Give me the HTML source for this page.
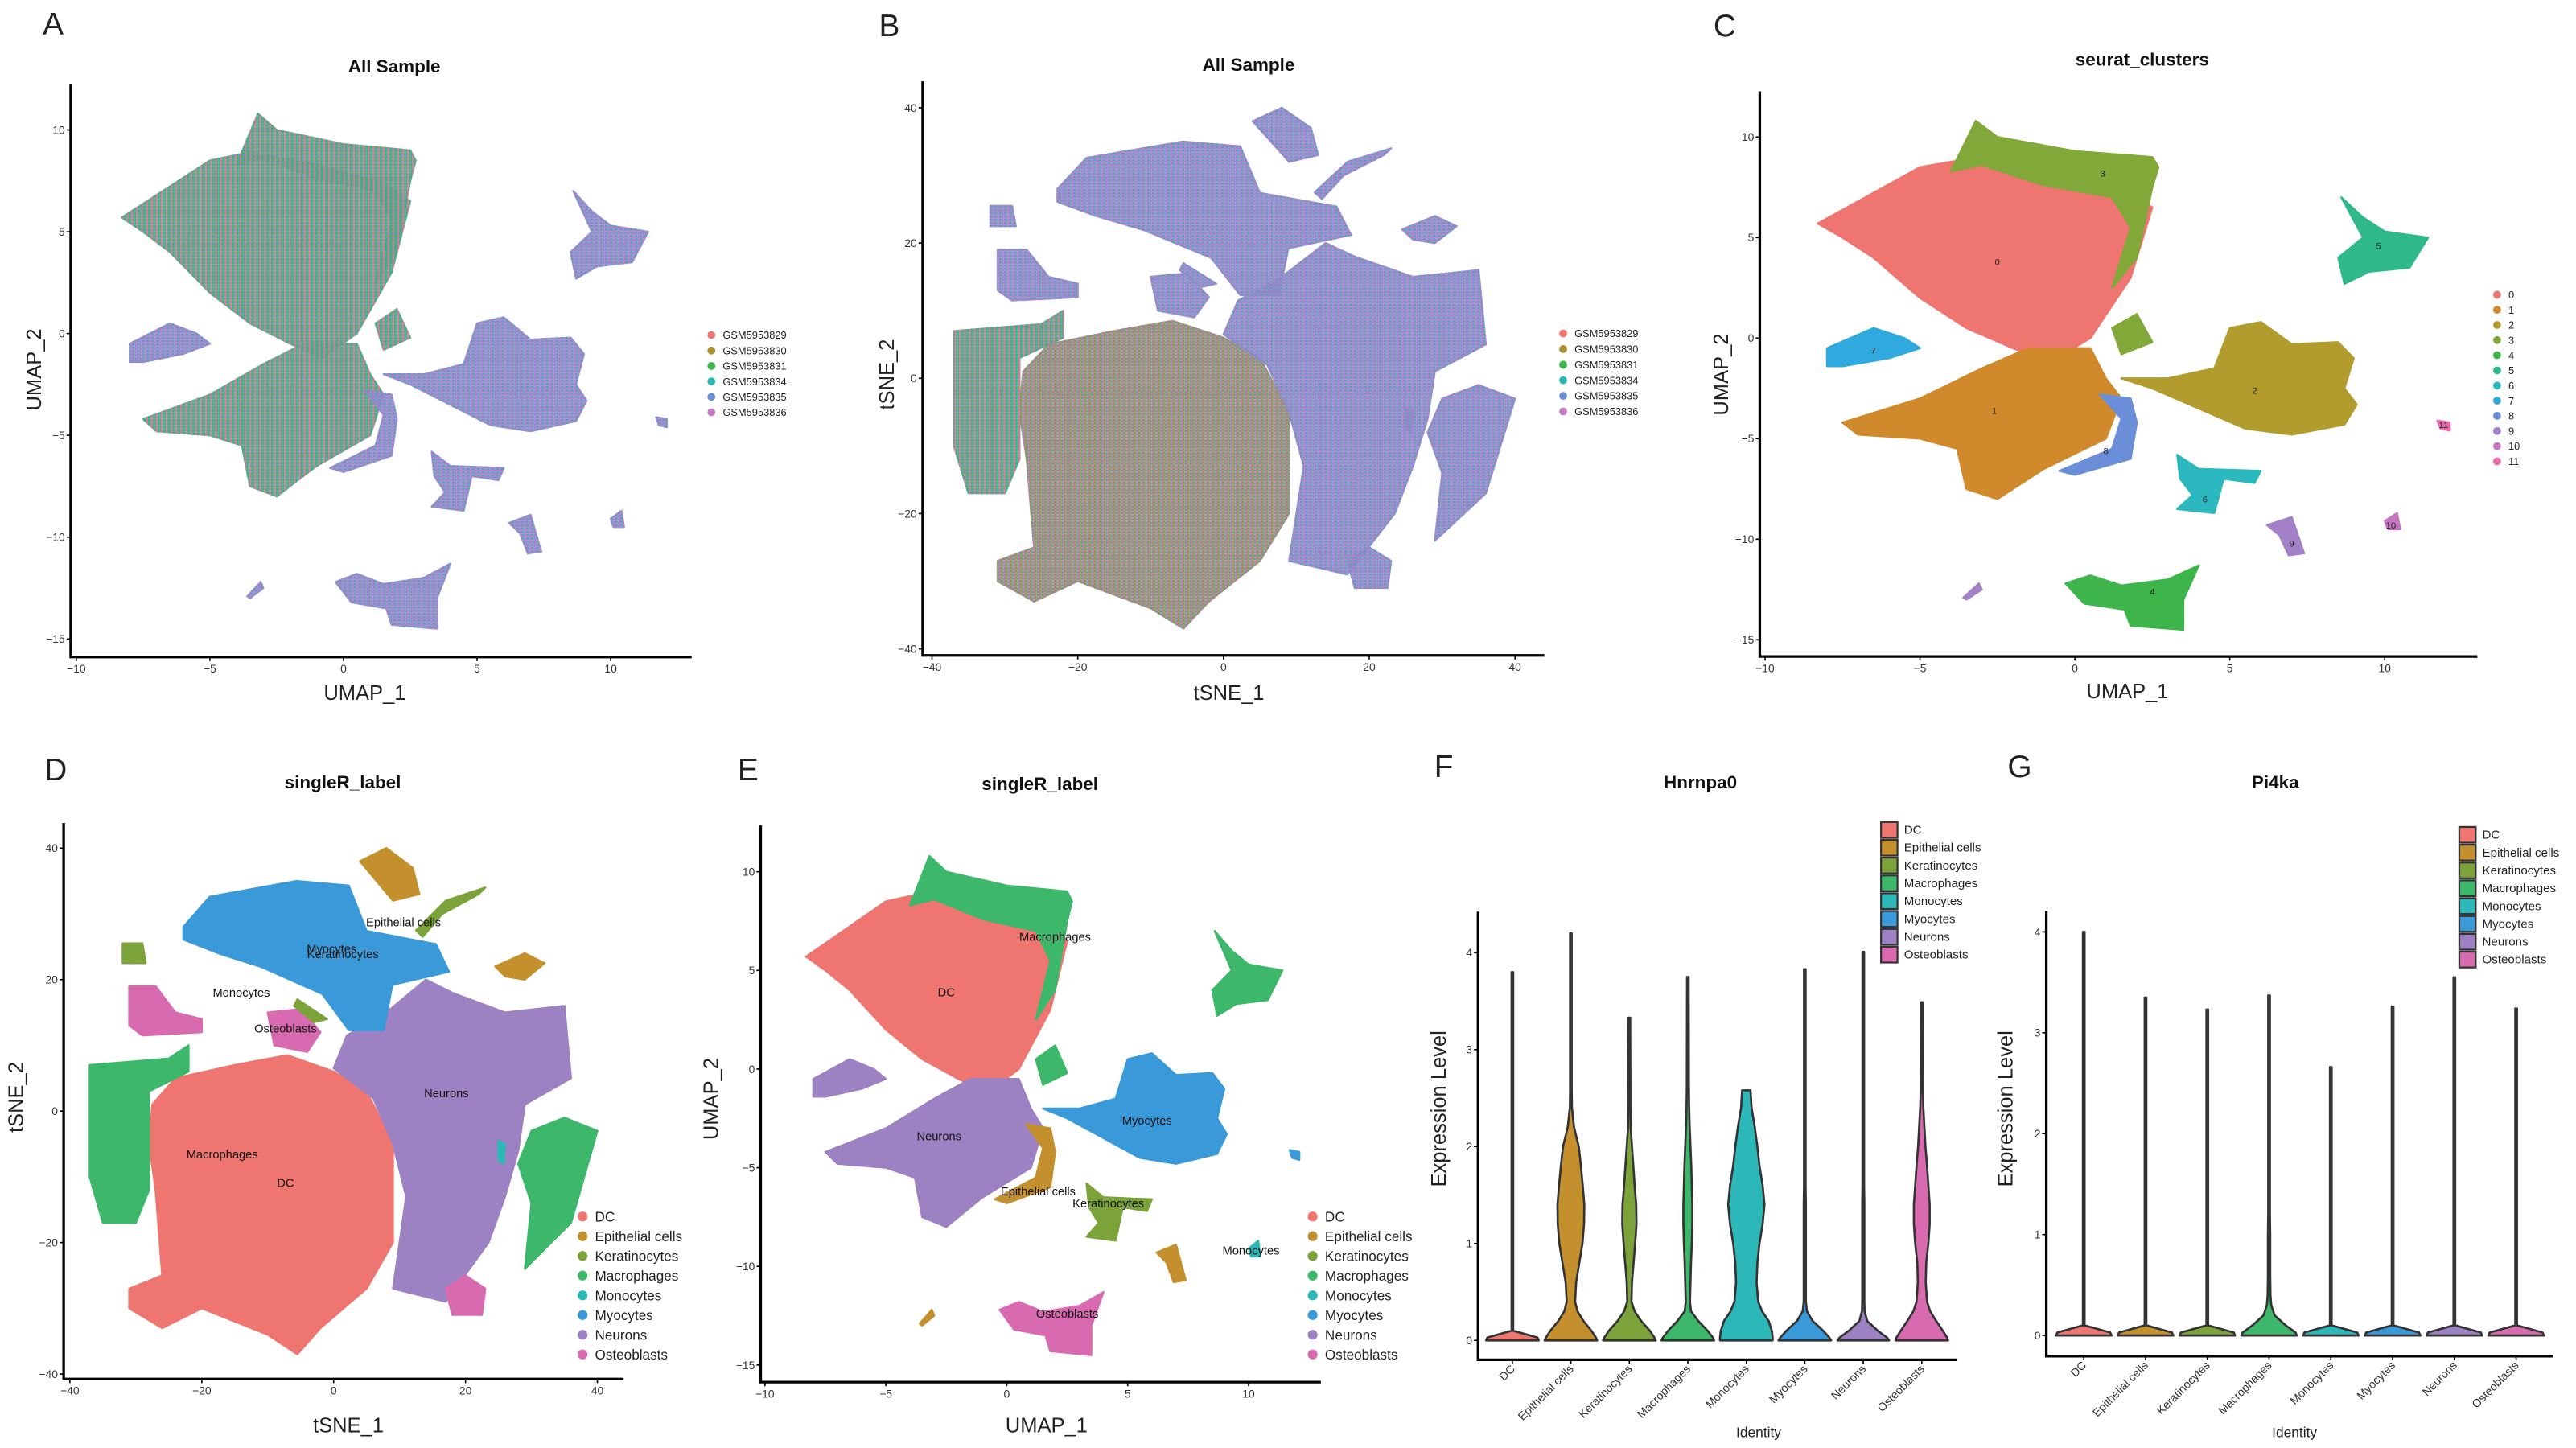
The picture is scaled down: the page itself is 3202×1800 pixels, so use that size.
<!DOCTYPE html>
<html><head><meta charset="utf-8"><title>scRNA figure</title>
<style>
html,body{margin:0;padding:0;background:#fff;}
svg{display:block;font-family:"Liberation Sans",Arial,sans-serif;}
</style></head>
<body>
<svg id="fig" xmlns="http://www.w3.org/2000/svg" width="3202" height="1800" viewBox="0 0 1568 881.5">
<defs>
<pattern id="mixGreen" width="3" height="2" patternUnits="userSpaceOnUse">
<rect x="0" y="0" width="1" height="1" fill="#3DB54A"/><rect x="1" y="0" width="1" height="1" fill="#6A8FD8"/><rect x="2" y="0" width="1" height="1" fill="#C47BC4"/>
<rect x="0" y="1" width="1" height="1" fill="#2BB8B3"/><rect x="1" y="1" width="1" height="1" fill="#3DB54A"/><rect x="2" y="1" width="1" height="1" fill="#EE7570"/>
</pattern>
<pattern id="mixPurple" width="3" height="2" patternUnits="userSpaceOnUse">
<rect x="0" y="0" width="1" height="1" fill="#C47BC4"/><rect x="1" y="0" width="1" height="1" fill="#6A8FD8"/><rect x="2" y="0" width="1" height="1" fill="#C47BC4"/>
<rect x="0" y="1" width="1" height="1" fill="#2BB8B3"/><rect x="1" y="1" width="1" height="1" fill="#C47BC4"/><rect x="2" y="1" width="1" height="1" fill="#6A8FD8"/>
</pattern>
<pattern id="mixRed" width="3" height="2" patternUnits="userSpaceOnUse">
<rect x="0" y="0" width="1" height="1" fill="#EE7570"/><rect x="1" y="0" width="1" height="1" fill="#3DB54A"/><rect x="2" y="0" width="1" height="1" fill="#6A8FD8"/>
<rect x="0" y="1" width="1" height="1" fill="#3DB54A"/><rect x="1" y="1" width="1" height="1" fill="#C47BC4"/><rect x="2" y="1" width="1" height="1" fill="#EE7570"/>
</pattern>
</defs>
<g id="root"></g>
</svg>
<script>
// ---------- UMAP cluster outlines (data units) ----------
const uC0=[[-8.3,5.7],[-7,6.8],[-5,8.5],[-3.5,8.9],[-1,8.3],[1.5,7.4],[2.5,6.5],[1.8,3],[0.5,0],[-0.8,-1.2],[-2,-0.5],[-3.5,0.5],[-5,2],[-6.5,4],[-7.5,5]];
const uC3=[[-4,8.3],[-3.2,10.8],[-2.5,10],[0,9.3],[2.5,9],[2.7,8.5],[2.5,7.5],[2,4],[1.2,2.5],[1.8,5.5],[1.2,7],[-1,7.6],[-3,8.6]];
const uC3b=[[1.2,0.5],[2,1.2],[2.5,-0.2],[1.5,-0.8]];
const uC1=[[-7.5,-4.2],[-5,-3],[-3,-1.5],[-1.5,-0.5],[0.5,-0.5],[1,-2],[1.5,-3],[1,-5],[-1,-6.5],[-2.5,-8],[-3.5,-7.5],[-3.8,-5.5],[-5,-5],[-7,-4.8]];
const uC8=[[0.8,-2.8],[1.8,-3],[2,-4.2],[1.8,-6],[0,-6.8],[-0.5,-6.6],[1.2,-5.5],[1.5,-4]];
const uC7=[[-8,-1.4],[-8,-0.5],[-6.5,0.5],[-5.5,0],[-5,-0.5],[-6,-1],[-7.5,-1.4]];
const uC2=[[1.5,-2],[3,-2],[4.5,-1.5],[5,0.5],[6,0.8],[7,-0.3],[8.5,-0.2],[9,-1],[8.7,-2.5],[9.1,-3.3],[8.7,-4.3],[7,-4.8],[5.5,-4.5],[4,-3.5],[2.5,-2.5]];
const uC5=[[8.6,7],[9.3,6],[10,5.3],[11.4,5],[10.8,3.5],[9.5,3.3],[8.7,2.7],[8.5,4],[9.3,5]];
const uC6=[[3.3,-5.8],[4,-6.5],[6,-6.6],[5.8,-7.2],[4.8,-7],[4.5,-8.7],[3.3,-8.5],[3.8,-7.8],[3.4,-7]];
const uC4=[[-0.3,-12.2],[0.5,-11.8],[1.5,-12.3],[3,-12],[4,-11.3],[3.5,-13],[3.5,-14.5],[1.8,-14.3],[1.6,-13.5],[0.3,-13.2]];
const uC9=[[6.2,-9.3],[7,-8.9],[7.4,-10.7],[6.9,-10.8],[6.6,-9.8]];
const uC10=[[10.0,-9.1],[10.4,-8.7],[10.5,-9.5],[10.1,-9.5]];
const uC11=[[11.7,-4.1],[12.1,-4.2],[12.1,-4.6],[11.8,-4.5]];
const uCtiny=[[-3.6,-12.9],[-3.1,-12.2],[-3.0,-12.5],[-3.5,-13.0]];
const umapShapes=[uC0,uC3,uC3b,uC1,uC8,uC7,uC2,uC5,uC6,uC4,uC9,uC10,uC11,uCtiny];
const umapClusterId=['0','3','3','1','8','7','2','5','6','4','9','10','11','9'];
const umapSingleR=['DC','Macrophages','Macrophages','Neurons','Epithelial cells','Neurons','Myocytes','Macrophages','Keratinocytes','Osteoblasts','Epithelial cells','Monocytes','Myocytes','Epithelial cells'];
const umapSampleMix=['mixGreen','mixGreen','mixGreen','mixGreen','mixPurple','mixPurple','mixPurple','mixPurple','mixPurple','mixPurple','mixPurple','mixPurple','mixPurple','mixPurple'];
const clusterLabels=['0','1','2','3','4','5','6','7','8','9','10','11'];
const clusterLabelX=[-2.5,-2.6,5.8,0.9,2.5,9.8,4.2,-6.5,1.0,7.0,10.2,11.9];
const clusterLabelY=[3.8,-3.6,-2.6,8.2,-12.6,4.6,-8.0,-0.6,-5.6,-10.2,-9.3,-4.3];
const clusterColors=['#EE7570','#D08A2C','#B39C2E','#82A83A','#3DB54A','#2FB98A','#2BB8BF','#2FA9DE','#6A8FD8','#A281C6','#C576C0','#E86AA8'];

// ---------- tSNE outlines ----------
const tDC=[[-27.5,1],[-24,5],[-15,7],[-7,8.5],[0,6],[5,3],[9,-5],[9,-20],[5,-27],[-2,-33],[-5.5,-37],[-10,-34],[-20,-30],[-26,-33],[-31,-30],[-31,-27],[-26,-25],[-27,-12],[-28,-5]];
const tNeu=[[2,11.5],[8,15],[14,20],[18,18],[26,15],[35,16],[36,5],[29,1],[28,-6],[26,-13],[23.5,-20],[17,-29],[9,-27],[11,-13],[9,-5],[6,2],[0,6.5]];
const tMyo=[[-22.8,28],[-18.8,32.6],[-5.6,35],[2.3,34.3],[5,27.4],[15.5,25.4],[17.5,21.2],[8.9,19.2],[7.6,12.3],[2.3,12.3],[-1.7,17.8],[-10.9,21.9],[-17.5,24],[-22.8,26.1]];
const tMacL=[[-37,7],[-25,8],[-22,10],[-22,6],[-28,3],[-28,-12],[-30,-17],[-35,-17],[-37,-10]];
const tMacR=[[30,-3],[35,-1],[40,-3],[38,-10],[36,-17],[33,-20],[29,-24],[30,-14],[28,-8]];
const tOstL=[[-31,19],[-27,19],[-24,15],[-20,14],[-20,12],[-29,11.5],[-31,13]];
const tOstM=[[-10,15],[-5,15.5],[-2,12],[-4,9],[-9,10]];
const tOstB=[[17,-27],[20,-25],[23,-27],[22.5,-31],[18,-31]];
const tEpiT=[[4,38],[8,40],[12,37],[13,33],[9,32]];
const tEpiR=[[24.5,22],[29,24],[32,22.5],[29,20],[26,20.5]];
const tKerT=[[12.5,27.5],[17,32],[23,34],[22,33],[16.5,30],[13.5,26.5]];
const tKerL=[[-32,25.5],[-29,25.5],[-28.5,22.5],[-32,22.5]];
const tKerM=[[-5.5,17],[-1,14],[-3,13.5],[-6,16]];
const tMono=[[25,-4.5],[26,-5],[25.8,-8],[25,-7.5]];
const tsneShapes=[tDC,tNeu,tMyo,tMacL,tMacR,tOstL,tOstM,tOstB,tEpiT,tEpiR,tKerT,tKerL,tKerM,tMono];
const tsneSingleR=['DC','Neurons','Myocytes','Macrophages','Macrophages','Osteoblasts','Osteoblasts','Osteoblasts','Epithelial cells','Epithelial cells','Keratinocytes','Keratinocytes','Keratinocytes','Monocytes'];
const tsneSampleMix=['mixRed','mixPurple','mixPurple','mixGreen','mixPurple','mixPurple','mixPurple','mixPurple','mixPurple','mixPurple','mixPurple','mixPurple','mixPurple','mixPurple'];
const tsneLabelText=['Epithelial cells','Myocytes','Keratinocytes','Monocytes','Osteoblasts','Neurons','Macrophages','DC'];
const tsneLabelX=[10.6,-0.3,1.4,-14,-7.3,17.1,-16.9,-7.3];
const tsneLabelY=[28.7,24.7,23.9,18,12.6,2.7,-6.6,-10.9];
const umapLabelText=['Macrophages','DC','Neurons','Myocytes','Epithelial cells','Keratinocytes','Monocytes','Osteoblasts'];
const umapLabelX=[2.0,-2.5,-2.8,5.8,1.3,4.2,10.1,2.5];
const umapLabelY=[6.7,3.9,-3.4,-2.6,-6.2,-6.8,-9.2,-12.4];

// ---------- cell types & samples ----------
const cellTypes=['DC','Epithelial cells','Keratinocytes','Macrophages','Monocytes','Myocytes','Neurons','Osteoblasts'];
const cellColors=['#EE7570','#C4902E','#7BA33A','#3DB86A','#2CB8B8','#3A9AD9','#9C82C2','#D86BB0'];
const samples=['GSM5953829','GSM5953830','GSM5953831','GSM5953834','GSM5953835','GSM5953836'];
const sampleColors=['#EE7570','#A89234','#3DB54A','#2BB8B3','#6A8FD8','#C47BC4'];

// ---------- violin data ----------
const vLevels=[0,0.03,0.1,0.2,0.3,0.4,0.6,0.8,1.0,1.2,1.4,1.6,1.8,2.0,2.2,2.4,2.58];
const fMax=[3.8,4.2,3.33,3.75,2.58,3.83,4.01,3.49];
const fW_DC=[1,0.95,0.03,0.03,0.03,0.03,0.03,0.03,0.03,0.03,0.03,0.03,0.03,0.03,0.03,0.03,0.03];
const fW_Epi=[1,0.95,0.78,0.48,0.25,0.16,0.2,0.32,0.44,0.5,0.51,0.45,0.38,0.3,0.12,0.04,0.03];
const fW_Ker=[1,0.95,0.78,0.45,0.2,0.08,0.1,0.16,0.22,0.27,0.26,0.2,0.15,0.1,0.05,0.04,0.04];
const fW_Mac=[1,0.95,0.75,0.4,0.12,0.08,0.1,0.12,0.15,0.17,0.17,0.15,0.13,0.1,0.07,0.05,0.04];
const fW_Mono=[1,1,0.97,0.85,0.6,0.45,0.39,0.42,0.5,0.62,0.69,0.62,0.5,0.42,0.32,0.2,0.16];
const fW_Myo=[1,0.93,0.7,0.3,0.08,0.04,0.04,0.04,0.04,0.04,0.04,0.03,0.03,0.03,0.03,0.03,0.03];
const fW_Neu=[0.98,0.9,0.55,0.15,0.05,0.04,0.04,0.04,0.04,0.04,0.04,0.03,0.03,0.03,0.03,0.03,0.03];
const fW_Ost=[1,0.96,0.8,0.55,0.32,0.2,0.15,0.17,0.25,0.3,0.3,0.25,0.2,0.14,0.1,0.06,0.04];
const fWidths=[fW_DC,fW_Epi,fW_Ker,fW_Mac,fW_Mono,fW_Myo,fW_Neu,fW_Ost];
const gMax=[4.0,3.35,3.23,3.37,2.66,3.26,3.55,3.24];
const gW_flat=[1,0.95,0.03,0.03,0.03,0.03,0.03,0.03,0.03,0.03,0.03,0.03,0.03,0.03,0.03,0.03,0.03];
const gW_Mac=[1,0.95,0.6,0.2,0.08,0.05,0.04,0.04,0.04,0.03,0.03,0.03,0.03,0.03,0.03,0.03,0.03];
const gWidths=[gW_flat,gW_flat,gW_flat,gW_Mac,gW_flat,gW_flat,gW_flat,gW_flat];
const yTicksViolin=[0,1,2,3,4];

// ---------- helpers ----------
const NS='http://www.w3.org/2000/svg';
const root=document.getElementById('root');
function mk(tag,parent,attrs){const e=document.createElementNS(NS,tag);for(const k in attrs)e.setAttribute(k,attrs[k]);(parent||root).appendChild(e);return e;}
function lin(d0,p0,d1,p1){return v=>p0+(v-d0)*(p1-p0)/(d1-d0);}
function txt(parent,x,y,s,size,opts){const t=mk('text',parent,Object.assign({x:x,y:y,'font-size':size,fill:'#111'},opts||{}));t.textContent=s;return t;}

function axes(g,f,xs,ys,xticks,yticks){
  const ax=mk('path',g,{d:`M${f.l},${f.t}V${f.b}H${f.r}`,fill:'none',stroke:'#000','stroke-width':1.6});
  
  
  xticks.forEach(v=>{const x=xs(v);
    const tk=mk('line',g,{x1:x,x2:x,y1:f.b,y2:f.b+2.5,stroke:'#000','stroke-width':0.8});
    
    
    const lb=txt(g,x,f.b+9.5,String(v).replace('-','\u2212'),6.8,{'text-anchor':'middle',fill:'#333'});
    
    });
  yticks.forEach(v=>{const y=ys(v);
    const tk=mk('line',g,{x1:f.l-2.5,x2:f.l,y1:y,y2:y,stroke:'#000','stroke-width':0.8});
    
    
    const lb=txt(g,f.l-3.5,y+2.4,String(v).replace('-','\u2212'),6.8,{'text-anchor':'end',fill:'#333'});
    
    });
}
function polys(g,shapes,xs,ys,fills,name){
  shapes.forEach((s,i)=>{
    const p=mk('polygon',g,{points:s.map(q=>xs(q[0]).toFixed(2)+','+ys(q[1]).toFixed(2)).join(' '),fill:fills[i],stroke:fills[i],'stroke-width':1.2,'stroke-linejoin':'round'});
    
    
  });
}
function titles(g,title,tx,ty,xl,xlx,xly,yl,ylx,yly,letter,lx,ly){
  const t=txt(g,tx,ty,title,11,{'text-anchor':'middle','font-weight':'bold'});
  
  
  const a=txt(g,xlx,xly,xl,12.5,{'text-anchor':'middle',fill:'#222'});
  
  
  const b=txt(g,0,0,yl,12.5,{'text-anchor':'middle',fill:'#222',transform:`translate(${ylx},${yly}) rotate(-90)`});
  
  
  const L=txt(g,lx,ly,letter,19,{fill:'#222'});
  
  
}
function dotLegend(g,x,y0,dy,labels,colors,size,r){
  labels.forEach((s,i)=>{
    const c=mk('circle',g,{cx:x,cy:y0+i*dy,r:r,fill:colors[i]});
    
    
    const t=txt(g,x+r+4.5,y0+i*dy+size*0.36,s,size,{fill:'#222'});
    
    
  });
}
function panel(name){const g=mk('g',root,{});return g;}

// ---------- Panel A ----------
(function(){
  const g=panel('panel-a-umap-samples');
  const xs=lin(-10,46.4,10,371.7), ys=lin(10,79.1,-15,389);
  polys(g,umapShapes,xs,ys,umapSampleMix.map(m=>`url(#${m})`),'sample');
  axes(g,{l:43,t:51,b:400,r:421},xs,ys,[-10,-5,0,5,10],[10,5,0,-5,-10,-15]);
  titles(g,'All Sample',240,44,'UMAP_1',222,426,'UMAP_2',25,225,'A',26,21);
  dotLegend(g,433,204,9.4,samples,sampleColors,6.3,2.4);
})();
// ---------- Panel B ----------
(function(){
  const g=panel('panel-b-tsne-samples');
  const xs=lin(-40,567.3,40,922.2), ys=lin(40,65.6,-40,395);
  polys(g,tsneShapes,xs,ys,tsneSampleMix.map(m=>`url(#${m})`),'sample');
  axes(g,{l:561.6,t:49.5,b:399,r:940},xs,ys,[-40,-20,0,20,40],[40,20,0,-20,-40]);
  titles(g,'All Sample',760,43,'tSNE_1',748,426,'tSNE_2',544,228,'B',535,22);
  dotLegend(g,951.5,203,9.5,samples,sampleColors,6.3,2.4);
})();
// ---------- Panel C ----------
(function(){
  const g=panel('panel-c-seurat-clusters');
  const xs=lin(-10,1074.4,10,1451.6), ys=lin(10,83.4,-15,389.5);
  polys(g,umapShapes,xs,ys,umapClusterId.map(c=>clusterColors[+c]),'seurat');
  clusterLabels.forEach((s,i)=>{const t=txt(g,xs(clusterLabelX[i]),ys(clusterLabelY[i])+2,s,5.5,{'text-anchor':'middle',fill:'#222'});
    
    });
  axes(g,{l:1071.2,t:55.6,b:399.7,r:1508},xs,ys,[-10,-5,0,5,10],[10,5,0,-5,-10,-15]);
  titles(g,'seurat_clusters',1304,40,'UMAP_1',1295,425,'UMAP_2',1052,228,'C',1043,22);
  dotLegend(g,1520,179.4,9.22,clusterLabels,clusterColors,6.3,2.4);
})();
// ---------- Panel D ----------
(function(){
  const g=panel('panel-d-tsne-singler');
  const xs=lin(-40,42.5,40,363.6), ys=lin(40,516.3,-40,836.5);
  polys(g,tsneShapes,xs,ys,tsneSingleR.map(c=>cellColors[cellTypes.indexOf(c)]),'celltype');
  tsneLabelText.forEach((s,i)=>{const t=txt(g,xs(tsneLabelX[i]),ys(tsneLabelY[i])+2.5,s,7.2,{'text-anchor':'middle',fill:'#111'});
    
    });
  axes(g,{l:38.7,t:501,b:839.5,r:379.6},xs,ys,[-40,-20,0,20,40],[40,20,0,-20,-40]);
  titles(g,'singleR_label',208.6,480,'tSNE_1',212,872,'tSNE_2',14,668,'D',27,475);
  dotLegend(g,354.6,740.6,12.0,cellTypes,cellColors,8.4,3);
})();
// ---------- Panel E ----------
(function(){
  const g=panel('panel-e-umap-singler');
  const xs=lin(-10,465.6,10,760), ys=lin(10,530.7,-15,831);
  polys(g,umapShapes,xs,ys,umapSingleR.map(c=>cellColors[cellTypes.indexOf(c)]),'celltype');
  umapLabelText.forEach((s,i)=>{const t=txt(g,xs(umapLabelX[i]),ys(umapLabelY[i])+2.5,s,7.2,{'text-anchor':'middle',fill:'#111'});
    
    });
  axes(g,{l:463,t:502.5,b:841.4,r:804},xs,ys,[-10,-5,0,5,10],[10,5,0,-5,-10,-15]);
  titles(g,'singleR_label',633,481,'UMAP_1',637,872,'UMAP_2',437,669,'E',449,475);
  dotLegend(g,799,740.6,12.0,cellTypes,cellColors,8.4,3);
})();
// ---------- Violins ----------
function violinPanel(name,f,ys,cx0,dx,maxes,widths,title,tx,letter,lx,ylx,idx,legY0){
  const g=panel(name);
  const H=0.45*dx;
  cellTypes.forEach((c,i)=>{
    const cx=cx0+i*dx, w=widths[i], mx=maxes[i];
    const R=[],L=[];
    vLevels.forEach((lv,k)=>{if(lv<=mx){R.push([cx+w[k]*H,ys(lv)]);L.push([cx-w[k]*H,ys(lv)]);}});
    if(mx>vLevels[vLevels.length-1]){R.push([cx+0.03*H,ys(mx)]);L.push([cx-0.03*H,ys(mx)]);}
    const pts=R.concat(L.reverse());
    const p=mk('polygon',g,{points:pts.map(q=>q[0].toFixed(2)+','+q[1].toFixed(2)).join(' '),fill:cellColors[i],stroke:'#333','stroke-width':1.3,'stroke-linejoin':'round'});
    
    
    const tk=mk('line',g,{x1:cx,x2:cx,y1:f.b,y2:f.b+2.5,stroke:'#000','stroke-width':0.8});
    
    
    const lb=txt(g,0,0,c,7,{'text-anchor':'end',fill:'#333',transform:`translate(${cx+2},${f.b+6}) rotate(-45)`});
    
    
  });
  const ax=mk('path',g,{d:`M${f.l},${f.t}V${f.b}H${f.r}`,fill:'none',stroke:'#000','stroke-width':1.6});
  
  
  yTicksViolin.forEach(v=>{const y=ys(v);
    const tk=mk('line',g,{x1:f.l-2.5,x2:f.l,y1:y,y2:y,stroke:'#000','stroke-width':0.8});
    
    
    const lb=txt(g,f.l-3.5,y+2.4,String(v),6.8,{'text-anchor':'end',fill:'#333'});
    
    });
  const t=txt(g,tx,480,title,11,{'text-anchor':'middle','font-weight':'bold'});
  
  
  const a=txt(g,idx,875,'Identity',8.5,{'text-anchor':'middle',fill:'#222'});
  
  
  const b=txt(g,0,0,'Expression Level',12.5,{'text-anchor':'middle',fill:'#222',transform:`translate(${ylx},${675}) rotate(-90)`});
  
  
  const L=txt(g,lx,473,letter,19,{fill:'#222'});
  
  
  const lgx=f.legX;
  cellTypes.forEach((c,i)=>{
    const y=legY0+i*10.85;
    const r=mk('rect',g,{x:lgx,y:y-4.6,width:10,height:9.6,fill:cellColors[i],stroke:'#333','stroke-width':1.1});
    
    
    const tt=txt(g,lgx+14,y+2.6,c,7.4,{fill:'#222'});
    
    
  });
}
violinPanel('panel-f-hnrnpa0-violin',{l:899.7,t:555,b:827.8,r:1191,legX:1145},lin(0,816,4,580),920.6,35.6,fMax,fWidths,'Hnrnpa0',1035,'F',873,880,1070.5,505);
violinPanel('panel-g-pi4ka-violin',{l:1245.6,t:554.6,b:825.6,r:1554,legX:1497},lin(0,813,4,567.3),1268.4,37.6,gMax,gWidths,'Pi4ka',1385,'G',1222,1225,1396.7,508);
</script>
</body></html>
